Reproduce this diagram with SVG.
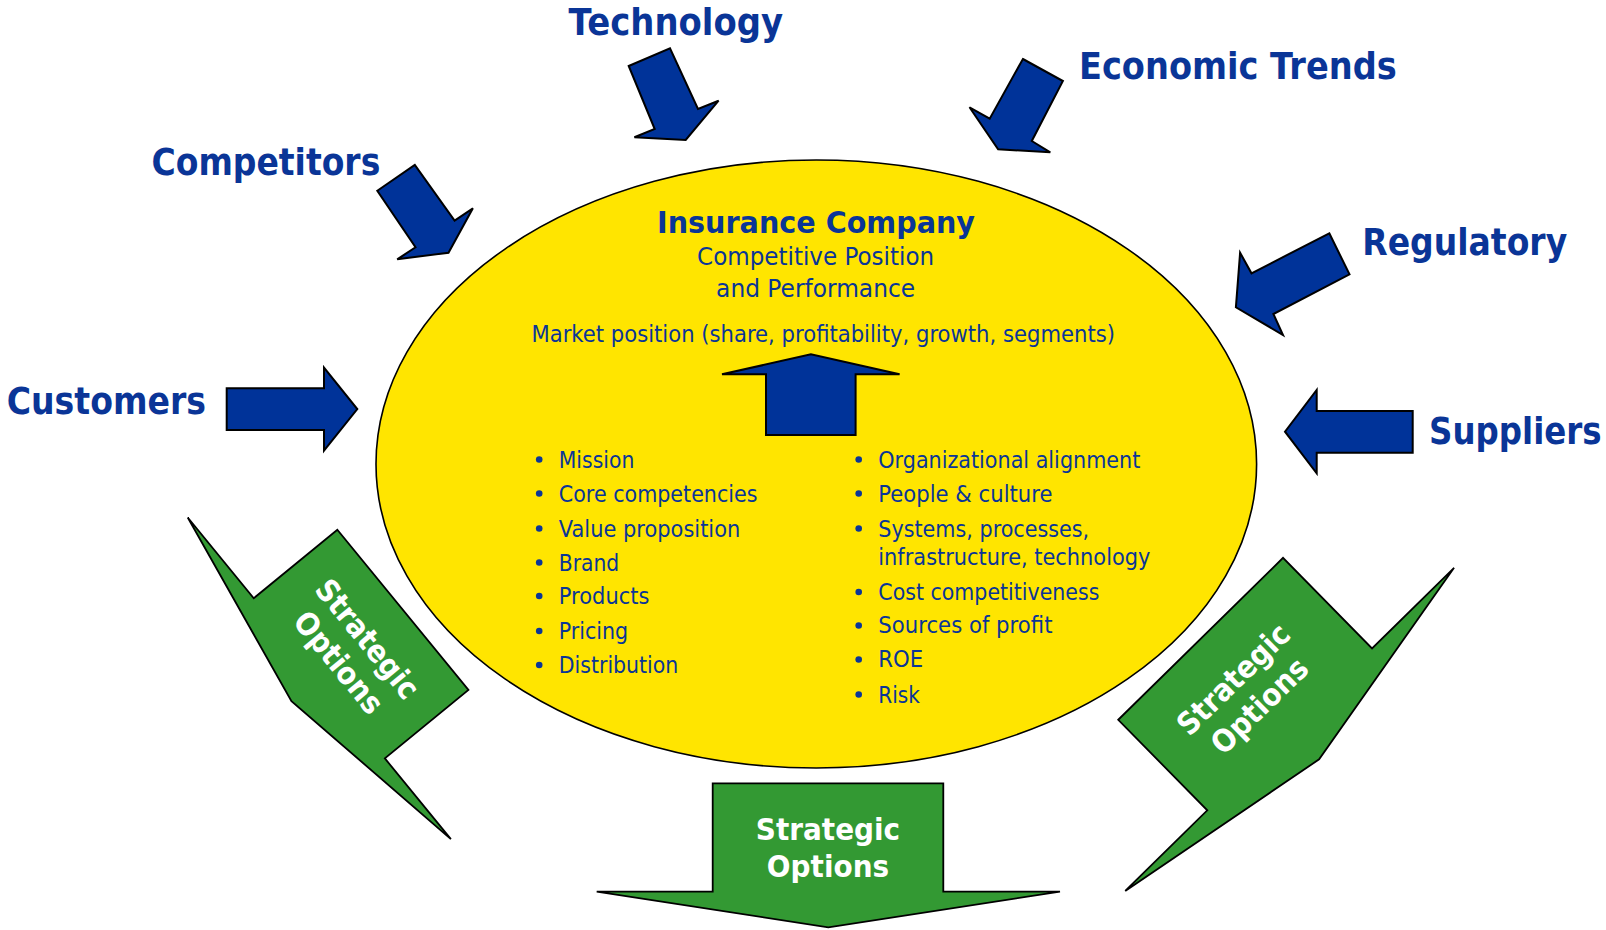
<svg xmlns="http://www.w3.org/2000/svg" width="1606" height="930" viewBox="0 0 1606 930">
  <style>
    .force { fill: #003399; stroke: #000; stroke-width: 2; stroke-linejoin: miter; }
    .option { fill: #339933; stroke: #000; stroke-width: 1.8; stroke-linejoin: miter; }
    .label { font-family: "DejaVu Sans", "Liberation Sans", sans-serif; font-weight: bold; font-size: 38px; fill: #0A3597; }
    .title { font-family: "DejaVu Sans", "Liberation Sans", sans-serif; font-weight: bold; font-size: 31px; fill: #0A3597; text-anchor: middle; }
    .sub { font-family: "DejaVu Sans", "Liberation Sans", sans-serif; font-size: 25px; fill: #0A3597; text-anchor: middle; }
    .item { font-family: "DejaVu Sans", "Liberation Sans", sans-serif; font-size: 23px; fill: #0A3597; }
    .dot { fill: #0A3597; }
    .opt-text { font-family: "DejaVu Sans", "Liberation Sans", sans-serif; font-weight: bold; font-size: 31px; fill: #fff; text-anchor: middle; }
  </style>

  <!-- central company ellipse -->
  <g id="company">
    <ellipse cx="816.3" cy="464" rx="440.3" ry="304" fill="#FFE500" stroke="#000" stroke-width="1.6"/>
    <text class="title" x="816" y="232.7" textLength="318" lengthAdjust="spacingAndGlyphs">Insurance Company</text>
    <text class="sub" x="815.6" y="265" textLength="237" lengthAdjust="spacingAndGlyphs">Competitive Position</text>
    <text class="sub" x="815.6" y="297.3" textLength="199" lengthAdjust="spacingAndGlyphs">and Performance</text>
    <text class="sub" x="823.2" y="341.7" style="font-size:23px" textLength="583.5" lengthAdjust="spacingAndGlyphs">Market position (share, profitability, growth, segments)</text>
    <polygon class="force" points="766,435 766,374.3 722,374.3 810.9,354.3 899.6,374.3 855.6,374.3 855.6,435"/>

    <g id="drivers-left">
      <circle class="dot" cx="539.2" cy="459.5" r="3.3"/>
      <text class="item" x="558.8" y="467.7" textLength="75.5" lengthAdjust="spacingAndGlyphs">Mission</text>
      <circle class="dot" cx="539.2" cy="493.5" r="3.3"/>
      <text class="item" x="558.8" y="501.7" textLength="198.7" lengthAdjust="spacingAndGlyphs">Core competencies</text>
      <circle class="dot" cx="539.2" cy="528.5" r="3.3"/>
      <text class="item" x="558.8" y="536.7" textLength="181.5" lengthAdjust="spacingAndGlyphs">Value proposition</text>
      <circle class="dot" cx="539.2" cy="562.5" r="3.3"/>
      <text class="item" x="558.8" y="570.7" textLength="60.4" lengthAdjust="spacingAndGlyphs">Brand</text>
      <circle class="dot" cx="539.2" cy="596" r="3.3"/>
      <text class="item" x="558.8" y="604" textLength="90.6" lengthAdjust="spacingAndGlyphs">Products</text>
      <circle class="dot" cx="539.2" cy="631" r="3.3"/>
      <text class="item" x="558.8" y="639" textLength="69.4" lengthAdjust="spacingAndGlyphs">Pricing</text>
      <circle class="dot" cx="539.2" cy="665" r="3.3"/>
      <text class="item" x="558.8" y="673.3" textLength="119.5" lengthAdjust="spacingAndGlyphs">Distribution</text>
    </g>

    <g id="drivers-right">
      <circle class="dot" cx="858.7" cy="459.5" r="3.3"/>
      <text class="item" x="878.3" y="467.7" textLength="262" lengthAdjust="spacingAndGlyphs">Organizational alignment</text>
      <circle class="dot" cx="858.7" cy="493.5" r="3.3"/>
      <text class="item" x="878.3" y="501.7" textLength="174.2" lengthAdjust="spacingAndGlyphs">People &amp; culture</text>
      <circle class="dot" cx="858.7" cy="528.5" r="3.3"/>
      <text class="item" x="878.3" y="536.7" textLength="210.9" lengthAdjust="spacingAndGlyphs">Systems, processes,</text>
      <text class="item" x="878.3" y="565" textLength="272.1" lengthAdjust="spacingAndGlyphs">infrastructure, technology</text>
      <circle class="dot" cx="858.7" cy="592" r="3.3"/>
      <text class="item" x="878.3" y="600" textLength="221.1" lengthAdjust="spacingAndGlyphs">Cost competitiveness</text>
      <circle class="dot" cx="858.7" cy="625.5" r="3.3"/>
      <text class="item" x="878.3" y="633.3" textLength="174.2" lengthAdjust="spacingAndGlyphs">Sources of profit</text>
      <circle class="dot" cx="858.7" cy="659.5" r="3.3"/>
      <text class="item" x="878.3" y="667.3" textLength="44.9" lengthAdjust="spacingAndGlyphs">ROE</text>
      <circle class="dot" cx="858.7" cy="694.5" r="3.3"/>
      <text class="item" x="878.3" y="702.7" textLength="41.6" lengthAdjust="spacingAndGlyphs">Risk</text>
    </g>
  </g>

  <!-- external forces -->
  <g id="technology"><text class="label" x="568.6" y="35" textLength="214.5" lengthAdjust="spacingAndGlyphs">Technology</text></g>
  <g id="economic-trends"><text class="label" x="1079" y="79.3" textLength="317.7" lengthAdjust="spacingAndGlyphs">Economic Trends</text></g>
  <g id="competitors"><text class="label" x="151.5" y="175" textLength="228.8" lengthAdjust="spacingAndGlyphs">Competitors</text></g>
  <g id="regulatory"><text class="label" x="1362.2" y="255" textLength="205" lengthAdjust="spacingAndGlyphs">Regulatory</text></g>
  <g id="customers"><text class="label" x="6.7" y="414" textLength="199.3" lengthAdjust="spacingAndGlyphs">Customers</text></g>
  <g id="suppliers"><text class="label" transform="translate(1429,444.3) scale(0.855,1)">Suppliers</text></g>

  <!-- block arrows pushing in on the company -->
  <g id="connectors">
    <polygon class="force" points="628.7,66 670,48.3 698,109 718.6,100.7 685.7,140 634.4,137.3 654.7,129"/>
    <polygon class="force" points="377.3,190.7 414.8,165 454.6,220.7 472.9,208.3 448.5,252.7 397.2,259.3 415.5,247.3"/>
    <polygon class="force" points="1022.9,59 1062.9,81 1031.8,141 1050.3,152.3 998.1,149.3 969.5,107.3 989.7,118.7"/>
    <polygon class="force" points="1329.3,233.3 1349.5,274.3 1273.4,314 1283,335 1235.9,307.3 1240.1,252.7 1251.5,273.3"/>
    <polygon class="force" points="226.7,388.3 324,388.3 324,367.7 357.3,409 324,450.7 324,430 226.7,430"/>
    <polygon class="force" points="1412.7,411 1316.7,411 1316.7,390 1285,431.7 1316.7,473.3 1316.7,452.7 1412.7,452.7"/>
  </g>

  <!-- strategic option arrows leading out -->
  <g id="options-left" transform="translate(361.1,644.1) rotate(50.7)">
    <polygon class="option" points="-103.5,-54 103.5,-54 103.5,54 207.75,54 0,90 -207.75,54 -103.5,54"/>
    <text class="opt-text" x="0" y="2.5" textLength="144" lengthAdjust="spacingAndGlyphs">Strategic</text>
    <text class="opt-text" x="0" y="39.8" textLength="122" lengthAdjust="spacingAndGlyphs">Options</text>
  </g>
  <g id="options-bottom">
    <polygon class="option" points="712.7,783.3 943.3,783.3 943.3,891.7 1060,891.7 828.3,927.3 596.7,891.7 712.7,891.7"/>
    <text class="opt-text" x="828" y="840" textLength="144.3" lengthAdjust="spacingAndGlyphs">Strategic</text>
    <text class="opt-text" x="828" y="877.3" textLength="122.3" lengthAdjust="spacingAndGlyphs">Options</text>
  </g>
  <g id="options-right" transform="translate(1245.15,684.1) rotate(-44.5)">
    <polygon class="option" points="-115.5,-63.5 115.5,-63.5 115.5,63.5 230.5,63.5 0,105.5 -230.5,63.5 -115.5,63.5"/>
    <text class="opt-text" x="-5" y="-1" textLength="144" lengthAdjust="spacingAndGlyphs">Strategic</text>
    <text class="opt-text" x="-5" y="36.3" textLength="122" lengthAdjust="spacingAndGlyphs">Options</text>
  </g>
</svg>
